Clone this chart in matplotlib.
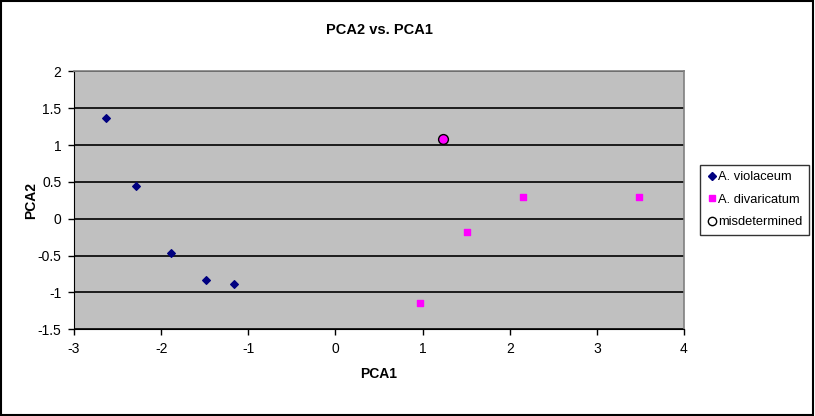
import matplotlib.pyplot as plt
from matplotlib.lines import Line2D
from matplotlib.patches import Rectangle

plt.rcParams['font.family'] = ['Liberation Sans', 'DejaVu Sans']
plt.rcParams['axes.unicode_minus'] = False

# A. violaceum
viol_x = [-2.63, -2.29, -1.885, -1.48, -1.16]
viol_y = [1.37, 0.45, -0.463, -0.83, -0.884]

# A. divaricatum
div_x = [0.974, 1.514, 2.157, 3.479]
div_y = [-1.139, -0.186, 0.294, 0.294]

# misdetermined
mis_x = [1.238]
mis_y = [1.083]

fig = plt.figure(figsize=(8.15, 4.16), dpi=100)
ax = fig.add_axes([74/815, 1 - 329.3/416, 610/815, 258/416])
ax.set_facecolor('#C0C0C0')

ax.scatter(viol_x, viol_y, marker='D', s=15, color='#000080', zorder=3)
ax.scatter(div_x, div_y, marker='s', s=20, color='#FF00FF', zorder=3)
ax.scatter(mis_x, mis_y, marker='o', s=50, facecolor='#FF00FF',
           edgecolor='black', linewidth=1, zorder=4)

ax.set_xlim(-3, 4)
ax.set_ylim(-1.5, 2)
ax.set_xticks(range(-3, 5))
ax.set_yticks([-1.5, -1, -0.5, 0, 0.5, 1, 1.5, 2])
ax.set_yticklabels(['-1.5', '-1', '-0.5', '0', '0.5', '1', '1.5', '2'])
ax.grid(axis='y', color='black', linewidth=1.2)
ax.set_axisbelow(True)
ax.tick_params(direction='out', length=4, width=1, labelsize=10, pad=5)

for s in ['left', 'bottom']:
    ax.spines[s].set_color('black')
for s in ['top', 'right']:
    ax.spines[s].set_color('#808080')
    ax.spines[s].set_linewidth(1.2)

ax.set_title('PCA2 vs. PCA1', fontsize=10.5, fontweight='bold', pad=27)
ax.set_xlabel('PCA1', fontsize=10, fontweight='bold', labelpad=8)
ax.set_ylabel('PCA2', fontsize=10, fontweight='bold', labelpad=0)

handles = [
    Line2D([], [], marker='D', color='#000080', linestyle='none', markersize=4),
    Line2D([], [], marker='s', color='#FF00FF', linestyle='none', markersize=5),
    Line2D([], [], marker='o', markerfacecolor='white', markeredgecolor='black',
           linestyle='none', markersize=6),
]
leg = fig.legend(handles, ['A. violaceum', 'A. divaricatum', 'misdetermined'],
                 loc='upper left', bbox_to_anchor=(700/815, 1 - 165/416),
                 fontsize=9.3, frameon=True, fancybox=False, edgecolor='black',
                 handletextpad=0.1, handlelength=0.8, borderpad=0.5,
                 labelspacing=0.8, borderaxespad=0)
leg.get_frame().set_linewidth(1.0)

fig.patches.append(Rectangle((0.001, 0.002), 0.997, 0.996, transform=fig.transFigure,
                             fill=False, edgecolor='black', linewidth=1.5))

fig.savefig('out.png', dpi=100)
